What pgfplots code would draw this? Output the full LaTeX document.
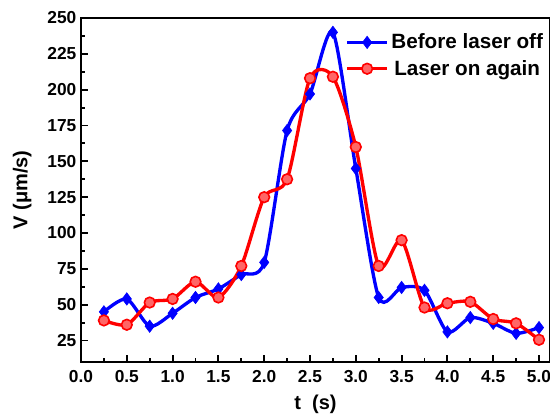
\documentclass[border=0pt]{standalone}
\usepackage{pgfplots}
\pgfplotsset{compat=1.18}
\usepackage{fontspec}
\setmainfont{Liberation Sans}
\begin{document}
\begin{tikzpicture}
\begin{axis}[scale only axis,width=351.75pt,height=258pt,
xmin=0,xmax=5.12,ymin=10,ymax=250,
xtick={0,0.5,...,5},ytick={25,50,...,250},
minor x tick num=1,minor y tick num=1,
xtick pos=left,ytick pos=left,tick align=inside,
major tick length=5pt,minor tick length=3pt,
every tick/.style={black,line width=1.4pt},
axis line style={line width=2pt},
/pgf/number format/assume math mode=true,
xticklabel style={yshift=-3pt,/pgf/number format/.cd,fixed,fixed zerofill,precision=1},
ticklabel style={font=\fontsize{13}{15}\selectfont\bfseries},
xlabel={t\ \ (s)},ylabel={V (μm/s)},
label style={font=\fontsize{15}{17}\selectfont\bfseries},
xlabel style={yshift=-2.5pt},ylabel style={yshift=5pt},
legend style={at={(0.555,0.97)},anchor=north west,draw=none,fill=none,
  font=\fontsize{15.5}{17}\selectfont\bfseries,row sep=3pt,
  nodes={inner sep=2pt}},
legend cell align=center,
legend image code/.code={\draw[#1] (0cm,0cm) -- (1.05cm,0cm);
  \draw[#1,only marks] plot coordinates {(0.525cm,0cm)};},
]
\addplot[blue,line width=2.5pt,smooth,tension=0.45,mark=diamond*,mark size=4.6pt,
  mark options={fill=blue,line width=0.5pt}] coordinates {
(0.25,45) (0.5,54) (0.75,35) (1.0,44) (1.25,55) (1.5,61) (1.75,71) (2.0,79.5)
(2.25,171.5) (2.5,197) (2.75,240) (3.0,145) (3.25,55) (3.5,62) (3.75,60)
(4.0,31) (4.25,41) (4.5,37) (4.75,30) (5.0,34)};
\addlegendentry{Before laser off}
\addplot[red,line width=2.5pt,smooth,tension=0.45,mark=*,mark size=4pt,
  mark options={fill=red!60,draw=red,line width=1.2pt}] coordinates {
(0.25,39) (0.5,36) (0.75,51.5) (1.0,54) (1.25,66) (1.5,55) (1.75,77) (2.0,125)
(2.25,137.5) (2.5,208) (2.75,209) (3.0,160) (3.25,77) (3.5,95) (3.75,48)
(4.0,51) (4.25,52) (4.5,40) (4.75,37) (5.0,25.5)};
\addlegendentry{Laser on again}
\end{axis}
\pgfresetboundingbox
\path[use as bounding box] ([xshift=-60.75pt,yshift=-39.75pt]current axis.south west)
  rectangle ([yshift=13.5pt]current axis.north east);
\end{tikzpicture}
\end{document}
